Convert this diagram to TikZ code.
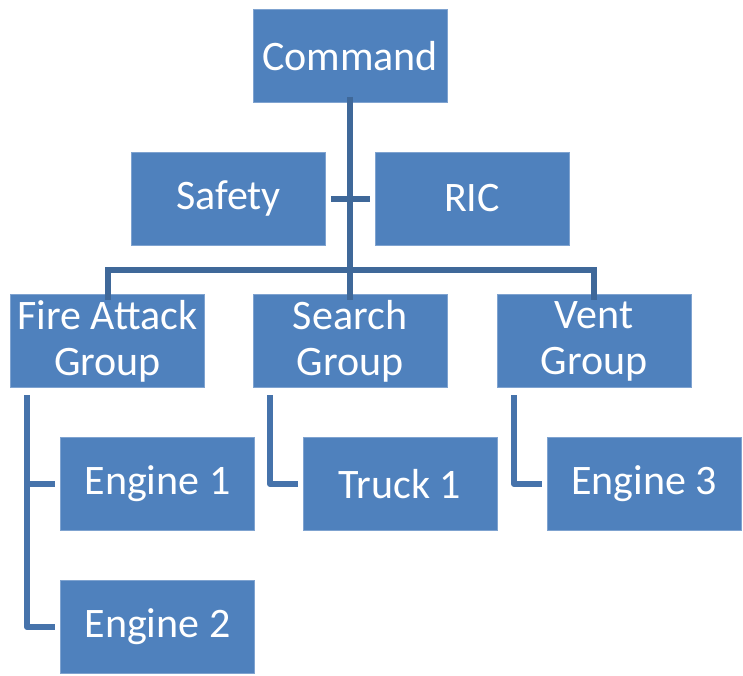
\documentclass[tikz,border=0pt]{standalone}
\usepackage{fontspec}
\setmainfont{Carlito}
\definecolor{boxfill}{HTML}{4F81BD}
\definecolor{boxedge}{HTML}{7FA3D0}
\definecolor{mainline}{HTML}{3F6899}
\definecolor{subline}{HTML}{4673AB}
\begin{document}
\begin{tikzpicture}[x=1pt,y=-1pt,
  unit/.style={fill=boxfill,draw=boxedge,line width=0.8pt,minimum width=194pt,minimum height=93pt,
    inner sep=0pt,text=white,align=center,font=\fontsize{42}{46}\selectfont},
  trunk/.style={draw=mainline,line width=6pt},
  branch/.style={draw=subline,line width=6pt,line join=round}]
\useasboundingbox (0,0) rectangle (743,675);
% boxes (centres in pixel coordinates)
\node[unit] (cmd)  at (350,56)  {Command};
\node[unit] (safe) at (228.5,198.5) {Safety};
\node[unit] (ric)  at (472,198.5) {RIC};
\node[unit] (fire) at (107.5,341) {Fire Attack\\Group};
\node[unit] (srch) at (350,341) {Search\\Group};
\node[unit] (vent) at (594,341) {Vent\\Group};
\node[unit] (e1)   at (157.5,484) {Engine 1};
\node[unit] (t1)   at (400,484) {Truck 1};
\node[unit] (e3)   at (644,484) {Engine 3};
\node[unit] (e2)   at (157.5,627) {Engine 2};
% command trunk and staff connector
\coordinate (bus) at (350,270);
\draw[trunk] ([yshift=6pt]cmd.south) -- (bus);
\draw[trunk] ([xshift=5pt]safe.east) -- ([xshift=-5pt]ric.west);
% group bus
\draw[trunk] ([yshift=-6pt]fire.north) |- (bus) -| ([yshift=-6pt]vent.north);
\draw[trunk] (bus) -- ([yshift=-6pt]srch.north);
% units under each group
\coordinate (fa) at (27,395);
\coordinate (sa) at (270,395);
\coordinate (va) at (514,395);
\draw[branch] (fa) |- ([xshift=-5pt]e2.west);
\draw[branch] (fa |- e1.west) -- ([xshift=-5pt]e1.west);
\draw[branch] (sa) |- ([xshift=-5pt]t1.west);
\draw[branch] (va) |- ([xshift=-5pt]e3.west);
\end{tikzpicture}
\end{document}
